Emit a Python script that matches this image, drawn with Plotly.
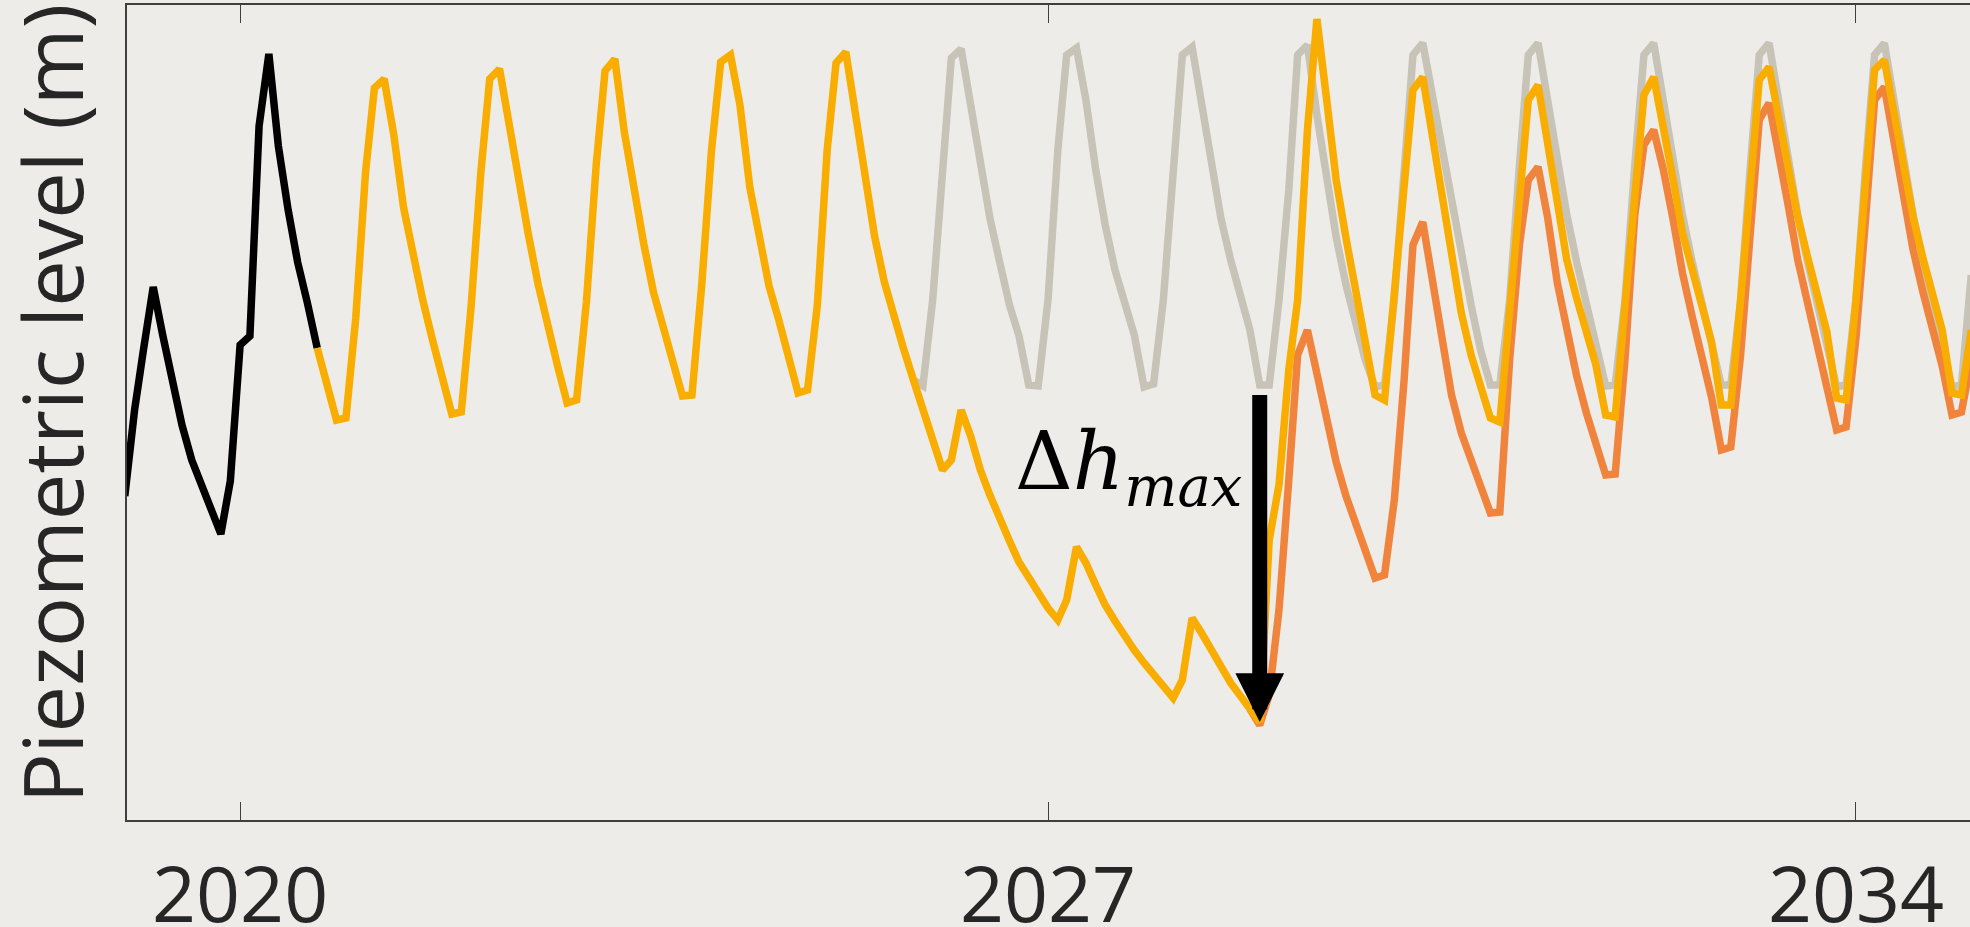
import pandas as pd
import plotly.graph_objects as go

# Monthly piezometric levels (m), first value at the given start month
observed_start = "2019-01-01"
observed_level = [3.24, 4.10, 4.70, 5.33, 4.85, 4.38, 3.95, 3.60, 3.34, 3.10, 2.86, 3.39,
                  4.75, 4.84, 6.94, 7.66, 6.74, 6.10, 5.58, 5.17, 4.72]

scenario_a_start = "2020-09-01"
scenario_a_level = [
    4.72, 4.38, 4.00, 4.02,
    5.02, 6.48, 7.32, 7.41, 6.86, 6.13, 5.65, 5.20, 4.80, 4.45, 4.06, 4.08,
    5.13, 6.48, 7.41, 7.51, 6.95, 6.39, 5.86, 5.36, 4.93, 4.55, 4.17, 4.20,
    5.18, 6.55, 7.49, 7.61, 6.88, 6.28, 5.77, 5.28, 4.95, 4.61, 4.24, 4.25,
    5.35, 6.70, 7.58, 7.65, 7.15, 6.33, 5.83, 5.34, 5.00, 4.63, 4.27, 4.30,
    5.15, 6.70, 7.57, 7.68, 7.04, 6.38, 5.84, 5.38, 5.02, 4.71, 4.40, 4.10,
    3.75, 3.50, 3.60, 4.10, 3.84, 3.50, 3.25, 3.00, 2.79, 2.58, 2.42, 2.26,
    2.12, 2.00, 2.20, 2.73, 2.57, 2.35, 2.15, 1.99, 1.83, 1.70, 1.57, 1.45,
    1.33, 1.22, 1.40, 2.02, 1.87, 1.69, 1.52, 1.37, 1.24, 1.11, 0.98, 2.80,
    3.35, 4.50, 5.20, 6.90, 8.01, 7.20, 6.40, 5.82, 5.30, 4.85, 4.25, 4.20,
    5.30, 6.35, 7.30, 7.43, 6.83, 6.20, 5.58, 5.07, 4.65, 4.35, 4.02, 3.98,
    5.05, 6.15, 7.20, 7.35, 6.78, 6.13, 5.60, 5.22, 4.87, 4.55, 4.05, 4.03,
    5.15, 6.25, 7.25, 7.43, 6.97, 6.41, 5.87, 5.49, 5.12, 4.78, 4.15, 4.15,
    5.20, 6.30, 7.40, 7.53, 7.04, 6.50, 6.03, 5.63, 5.26, 4.88, 4.22, 4.20,
    5.20, 6.37, 7.50, 7.60, 7.10, 6.54, 6.03, 5.62, 5.25, 4.90, 4.27, 4.25,
    4.90,
]

baseline_start = "2025-11-01"
baseline_level = [
    4.40, 4.34,
    5.20, 6.60, 7.62, 7.71, 7.12, 6.55, 6.02, 5.58, 5.15, 4.84, 4.35, 4.34,
    5.20, 6.70, 7.65, 7.72, 7.20, 6.50, 5.95, 5.50, 5.20, 4.85, 4.33, 4.36,
    5.20, 6.55, 7.65, 7.73, 7.20, 6.60, 6.02, 5.60, 5.27, 4.90, 4.35, 4.35,
    5.20, 6.30, 7.65, 7.75, 7.05, 6.40, 5.83, 5.35, 4.94, 4.60, 4.33, 4.35,
    5.20, 6.55, 7.65, 7.77, 7.25, 6.70, 6.15, 5.60, 5.15, 4.70, 4.35, 4.35,
    5.20, 6.55, 7.65, 7.77, 7.20, 6.60, 6.05, 5.58, 5.17, 4.80, 4.34, 4.35,
    5.20, 6.55, 7.65, 7.77, 7.20, 6.60, 6.05, 5.58, 5.17, 4.80, 4.35, 4.35,
    5.20, 6.55, 7.65, 7.77, 7.20, 6.60, 6.05, 5.58, 5.17, 4.80, 4.33, 4.35,
    5.20, 6.55, 7.65, 7.77, 7.20, 6.60, 6.05, 5.58, 5.17, 4.80, 4.33, 4.35,
    5.45,
]

scenario_b_start = "2028-10-01"
scenario_b_level = [
    1.11, 0.95, 1.25,
    2.10, 3.40, 4.65, 4.90, 4.47, 3.95, 3.58, 3.24, 2.96, 2.69, 2.42, 2.45,
    3.20, 4.40, 5.75, 5.98, 5.42, 4.80, 4.25, 3.87, 3.60, 3.35, 3.07, 3.08,
    4.60, 5.75, 6.40, 6.53, 6.03, 5.37, 4.90, 4.44, 4.07, 3.75, 3.45, 3.46,
    4.60, 6.05, 6.75, 6.90, 6.51, 6.01, 5.47, 5.03, 4.61, 4.23, 3.70, 3.73,
    4.65, 5.95, 7.00, 7.17, 6.70, 6.14, 5.60, 5.17, 4.76, 4.39, 3.90, 3.93,
    4.82, 6.03, 7.20, 7.33, 6.78, 6.21, 5.70, 5.28, 4.91, 4.54, 4.05, 4.08,
    4.60,
]

year_ticks = [2020, 2027, 2034]
drawdown_month = "2028-11-01"

COLORS = {
    "observed": "#000000",
    "baseline": "#C8C3B7",
    "scenario_a": "#F8AD00",
    "scenario_b": "#F0843D",
}
BG = "#EDECE8"
TEXT = "#262626"
AXIS = "#3F3F3F"
LINE_W = 7.5


def monthly(start, values):
    return pd.Series(values, index=pd.date_range(start, periods=len(values), freq="MS"))


observed = monthly(observed_start, observed_level)
scenario_a = monthly(scenario_a_start, scenario_a_level)
baseline = monthly(baseline_start, baseline_level)
scenario_b = monthly(scenario_b_start, scenario_b_level)

fig = go.Figure()
for series, key in [(observed, "observed"), (baseline, "baseline"),
                    (scenario_b, "scenario_b"), (scenario_a, "scenario_a")]:
    fig.add_trace(go.Scatter(
        x=series.index, y=series.values, mode="lines",
        line=dict(color=COLORS[key], width=LINE_W),
        hoverinfo="skip", showlegend=False,
    ))

# Maximum drawdown arrow: from the undisturbed level down to the lowest pumped level
t_dd = pd.Timestamp(drawdown_month)
fig.add_annotation(
    x=t_dd, y=scenario_a[t_dd], ax=t_dd, ay=baseline[t_dd],
    xref="x", yref="y", axref="x", ayref="y",
    text=" ", showarrow=True, arrowhead=2, arrowsize=0.65, arrowwidth=15,
    arrowcolor="#000000",
)
fig.add_annotation(
    x=t_dd, y=baseline[t_dd], xref="x", yref="y",
    text="Δ<i>h</i><sub><i>max</i></sub>", showarrow=False,
    xanchor="right", yanchor="top", xshift=-16, yshift=-28,
    font=dict(family="DejaVu Serif", size=80, color="#000000"),
)

# Vertical axis title
fig.add_annotation(
    xref="paper", yref="paper", x=0, y=0.51, xshift=-77,
    text="Piezometric level (m)", textangle=-90, showarrow=False,
    xanchor="center", yanchor="middle",
    font=dict(family="Open Sans", size=83, color=TEXT),
)

fig.update_layout(
    width=1970, height=927,
    margin=dict(l=127, r=0, t=5, b=107, pad=0),
    paper_bgcolor=BG, plot_bgcolor=BG,
    showlegend=False,
    xaxis=dict(
        type="date", range=["2019-01-08", "2034-12-28"],
        tickvals=[pd.Timestamp(f"{y}-01-01") for y in year_ticks],
        ticktext=[str(y) for y in year_ticks],
        ticks="inside", ticklen=18, tickwidth=1.3, tickcolor=AXIS,
        showline=True, linecolor=AXIS, linewidth=1.5, mirror="ticks",
        showgrid=False, zeroline=False, automargin=False,
        tickfont=dict(family="Open Sans", size=77, color=TEXT),
        ticklabelstandoff=8,
    ),
    yaxis=dict(
        range=[0, 8.15], showticklabels=False, ticks="",
        showline=True, linecolor=AXIS, linewidth=1.5, mirror=False,
        showgrid=False, zeroline=False, automargin=False,
    ),
)

fig.write_html("out.html", config={"displayModeBar": False})
